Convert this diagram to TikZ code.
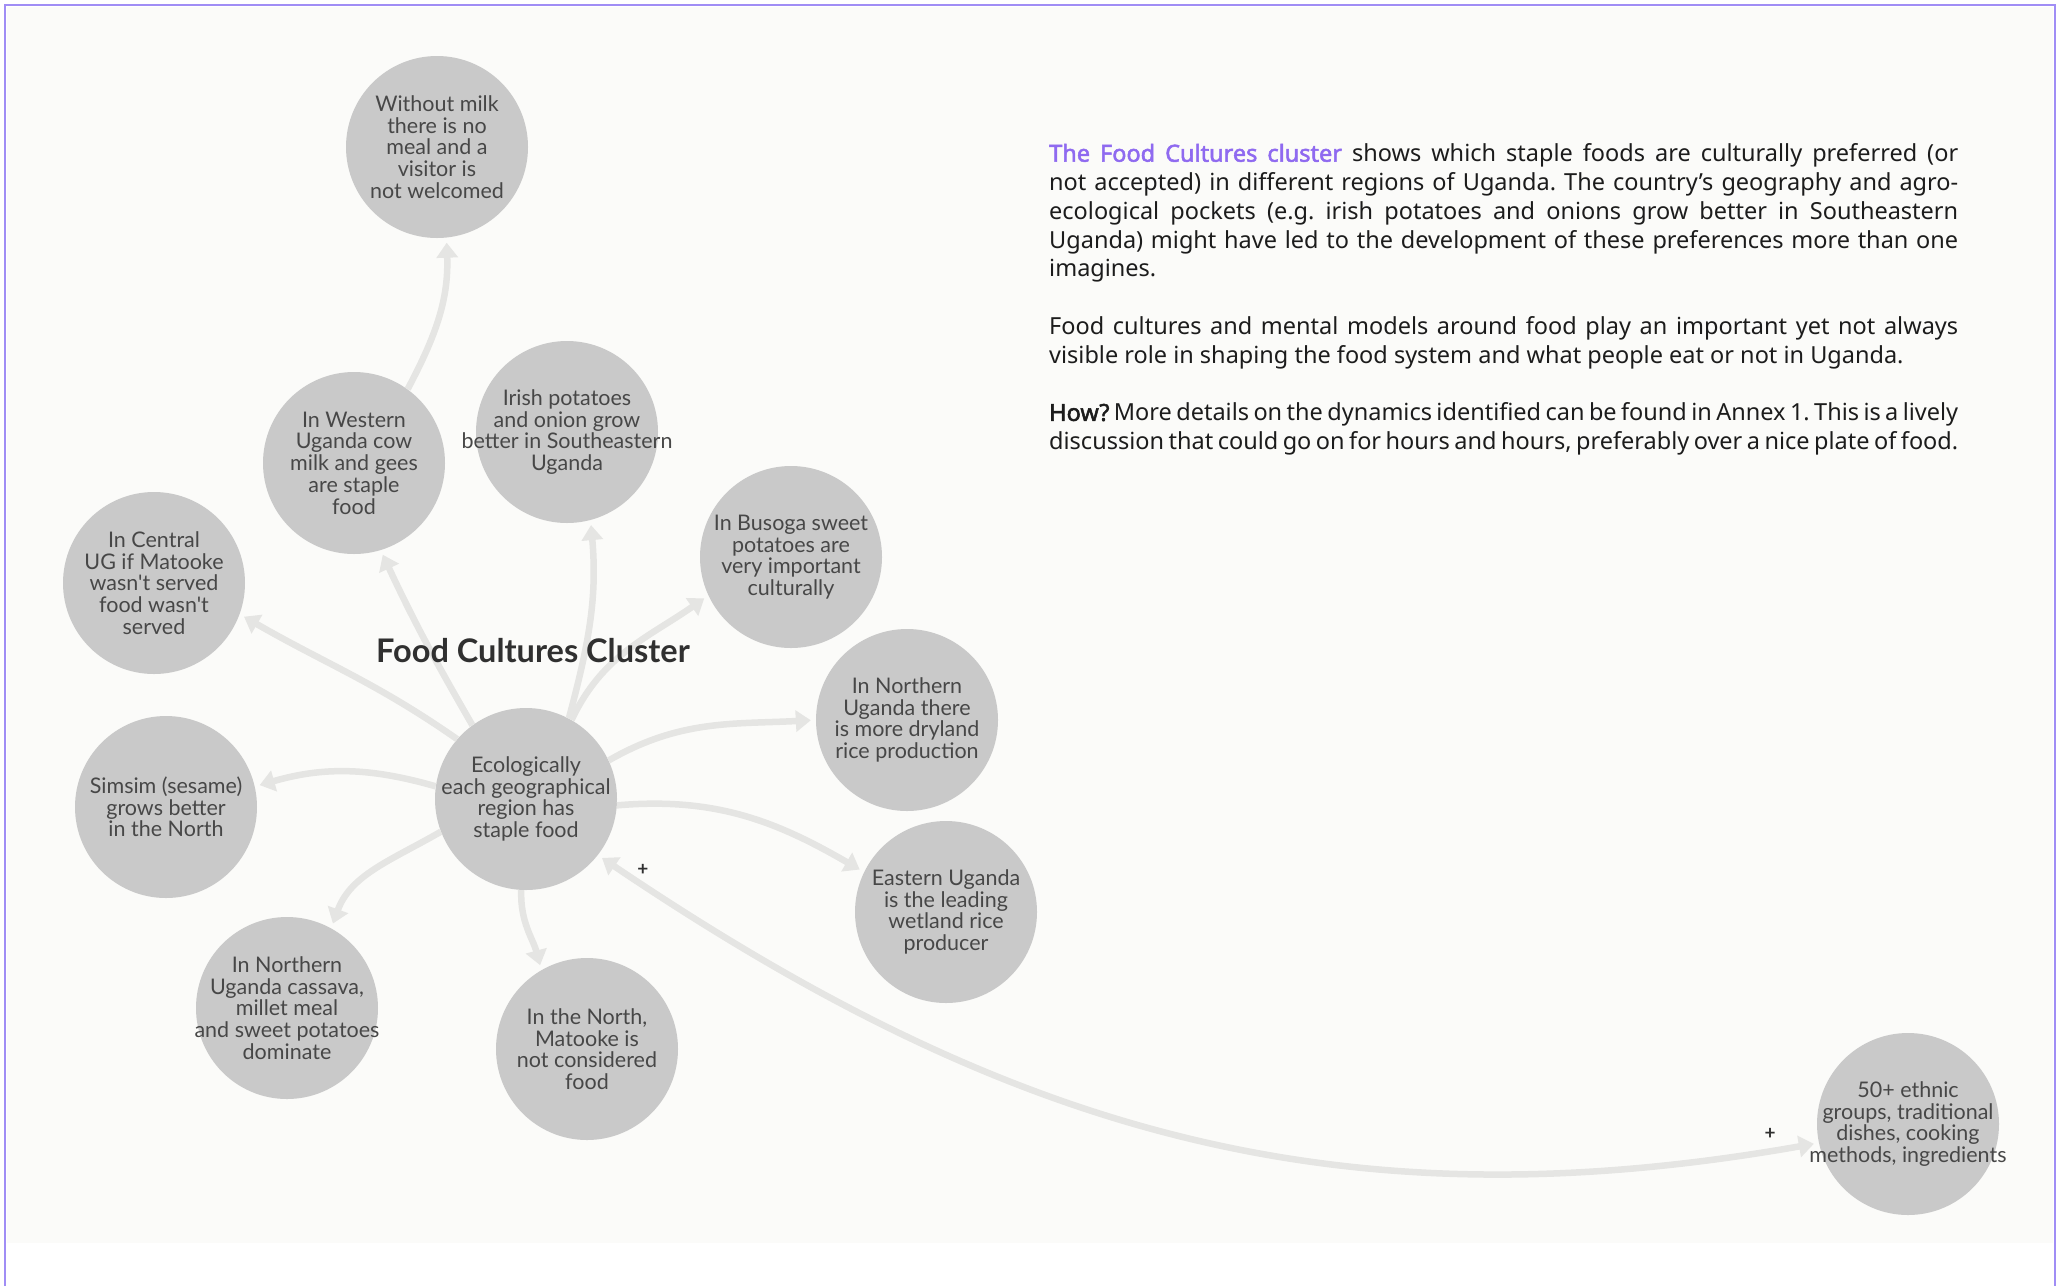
\documentclass[tikz,border=0pt]{standalone}
\usepackage{fontspec}
\usepackage{tikz}
\usetikzlibrary{arrows.meta}
\setmainfont{Noto Sans}[AutoFakeBold=2.2]
\newfontfamily\lato{Lato}
\frenchspacing
\definecolor{bgwhite}{HTML}{FBFBF9}
\definecolor{frame}{HTML}{A08DF5}
\definecolor{bubgray}{HTML}{C9C9C9}
\definecolor{bubtext}{HTML}{474747}
\definecolor{arrgray}{HTML}{E5E5E3}
\definecolor{titlegray}{HTML}{303030}
\definecolor{purp}{HTML}{8F6AF0}
\definecolor{txt}{HTML}{1C1C1C}
\newlength{\pw}\setlength{\pw}{909pt}
\newcommand{\jl}[1]{\makebox[\pw][s]{#1}}
\tikzset{bub/.style={circle,fill=bubgray,minimum size=182pt,inner sep=-25pt,align=center,text=bubtext,font=\lato\fontsize{21.5}{21.7}\selectfont}}
\tikzset{arr/.style={line width=6.5pt,draw=arrgray,-{Triangle[length=15pt,width=21pt]},shorten >=5pt}}
\tikzset{pl/.style={text=titlegray,font=\lato\bfseries\fontsize{19}{19}\selectfont,inner sep=0pt}}

\begin{document}
\begin{tikzpicture}[x=1pt,y=1pt]
        \useasboundingbox (0,0) rectangle (2063,-1286);
        \fill[bgwhite] (7,-7) rectangle (2053,-1243);
        \draw[frame,line width=2pt] (5,-1286) -- (5,-5) -- (2055,-5) -- (2055,-1286);
        \node[bub] (milk) at (437,-147) {Without milk\\there is no\\meal and a\\visitor is\\not welcomed};
        \node[bub] (west) at (354,-463) {In Western\\Uganda cow\\milk and gees\\are staple\\food};
        \node[bub] (irish) at (567,-432) {Irish potatoes\\and onion grow\\better in Southeastern\\Uganda};
        \node[bub] (central) at (154,-583) {In Central\\UG if Matooke\\wasn't served\\food wasn't\\served};
        \node[bub] (busoga) at (791,-557) {In Busoga sweet\\potatoes are\\very important\\culturally};
        \node[bub] (dryland) at (907,-720) {In Northern\\Uganda there\\is more dryland\\rice production};
        \node[bub] (eco) at (526,-799) {Ecologically\\each geographical\\region has\\staple food};
        \node[bub] (simsim) at (166,-807) {Simsim (sesame)\\grows better\\in the North};
        \node[bub] (eastern) at (946,-912) {Eastern Uganda\\is the leading\\wetland rice\\producer};
        \node[bub] (cassava) at (287,-1008) {In Northern\\Uganda cassava,\\millet meal\\and sweet potatoes\\dominate};
        \node[bub] (matooke) at (587,-1049) {In the North,\\Matooke is\\not considered\\food};
        \node[bub] (ethnic) at (1908,-1124) {50+ ethnic\\groups, traditional\\dishes, cooking\\methods, ingredients};
        \draw[arr] (west.54) to[out=62,in=-88] (milk.-84);
        \draw[arr] (eco.126) to[out=120,in=-65] (west.-73);
        \draw[arr] (eco.62) to[out=75,in=-85] (irish.-75);
        \draw[arr] (eco.60) to[out=65,in=215] (busoga.205);
        \draw[arr] (eco.139) to[out=145,in=-30] (central.-20);
        \draw[arr] (eco.172) to[out=164,in=16] (simsim.13);
        \draw[arr] (eco.201) to[out=210,in=70] (cassava.61);
        \draw[arr] (eco.-93) to[out=-92,in=105] (matooke.120);
        \draw[arr] (eco.25) to[out=30,in=183] (dryland.180);
        \draw[arr] (eco.-4) to[out=5,in=150] (eastern.154);
        \draw[arr,{Triangle[length=15pt,width=21pt]}-{Triangle[length=15pt,width=21pt]},shorten <=5pt] (eco.-38) .. controls (1008,-1132) and (1336,-1228) .. (ethnic.192);
        \node[pl] (plus1) at (643,-870) {+};
        \node[pl] (plus2) at (1770,-1134) {+};
        \node[font=\lato\bfseries\fontsize{32.5}{32.5}\selectfont,text=titlegray] (title) at (533,-651) {Food Cultures Cluster};
        \node[anchor=north west,align=left,inner sep=0pt,text=txt,font=\fontsize{23.5}{28.8}\selectfont] (para) at (1049,-143.5) {%
\jl{\textcolor{purp}{\bfseries The Food Cultures cluster} shows which staple foods are culturally preferred (or}\\
\jl{not accepted) in different regions of Uganda. The country’s geography and agro-}\\
\jl{ecological pockets (e.g. irish potatoes and onions grow better in Southeastern}\\
\jl{Uganda) might have led to the development of these preferences more than one}\\
imagines.\\[28.8pt]
\jl{Food cultures and mental models around food play an important yet not always}\\
visible role in shaping the food system and what people eat or not in Uganda.\\[28.8pt]
\jl{\textbf{How?} More details on the dynamics identified can be found in Annex 1. This is a lively}\\
\jl{discussion that could go on for hours and hours, preferably over a nice plate of food.}};
\end{tikzpicture}
\end{document}
